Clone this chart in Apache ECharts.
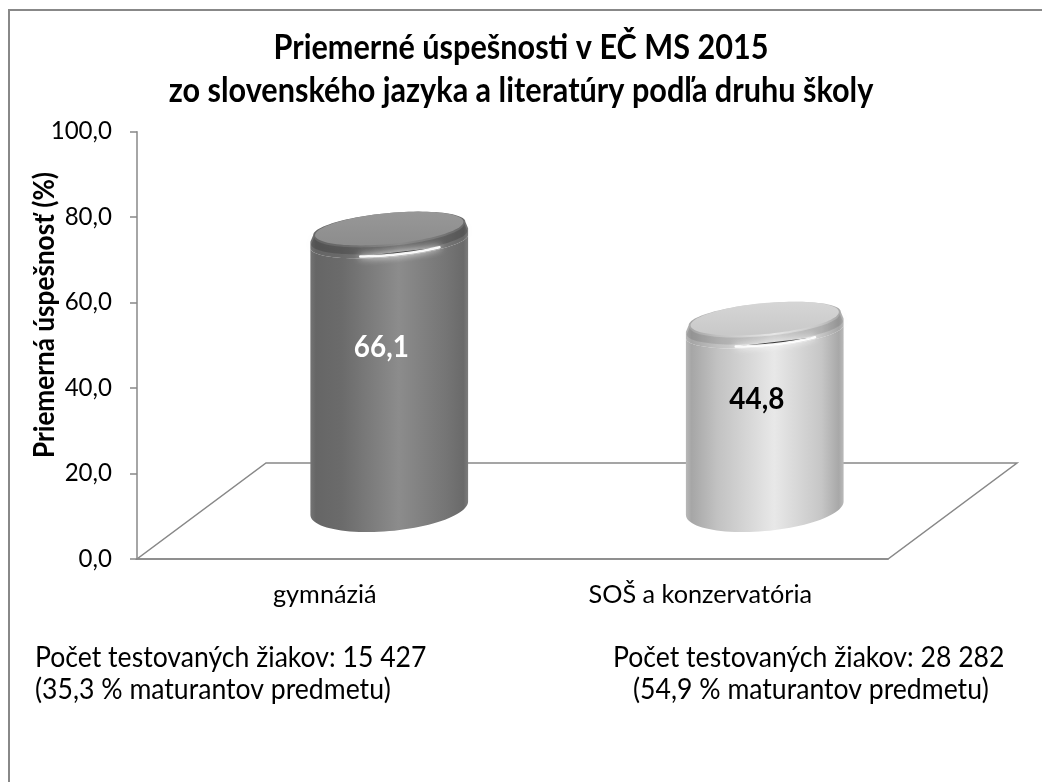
<!DOCTYPE html>
<html><head><meta charset="utf-8">
<script src="https://cdn.jsdelivr.net/npm/echarts@6/dist/echarts.min.js"></script>
<style>html,body{margin:0;padding:0;background:#fff}#c{width:1042px;height:782px}</style>
</head><body><div id="c"></div>
<script>
// ---- data ----
const categories = ['gymnáziá', 'SOŠ a konzervatória'];
const values = [66.1, 44.8];
const valueLabels = ['66,1', '44,8'];
const yTicks = [0, 20, 40, 60, 80, 100];
const titleLines = ['Priemerné úspešnosti v EČ MS 2015', 'zo slovenského jazyka a literatúry podľa druhu školy'];
const yAxisName = 'Priemerná úspešnosť (%)';
const noteLeft = ['Počet testovaných žiakov: 15 427', '(35,3 % maturantov predmetu)'];
const noteRight = ['Počet testovaných žiakov: 28 282', '(54,9 % maturantov predmetu)'];

// ---- style ----
const FONT = 'Lato';
const GRAY = '#888888';
const DEPTH_X = 129, DEPTH_Y = -96;
const PERSP = 0.99;
const K = 1.09; // taller glyphs, narrowed back with scaleX
const palettes = [
  { body: [[0, '#747474'], [0.035, '#666666'], [0.2, '#6b6b6b'], [0.56, '#8c8c8c'], [0.86, '#757575'], [0.97, '#6a6a6a'], [1, '#7c7c7c']],
    cap: ['#979797', '#8d8d8d'], label: '#ffffff', shade: 'rgba(0,0,0,0.16)' },
  { body: [[0, '#b8b8b8'], [0.035, '#a6a6a6'], [0.2, '#c2c2c2'], [0.56, '#e8e8e8'], [0.86, '#c6c6c6'], [0.97, '#a8a8a8'], [1, '#bababa']],
    cap: ['#d5d5d5', '#c9c9c9'], label: '#000000', shade: 'rgba(0,0,0,0.10)' }
];

const mctx = document.createElement('canvas').getContext('2d');
function fit(text, weight, width) {
  mctx.font = weight + ' 100px ' + FONT;
  return 100 * width / mctx.measureText(text).width;
}
const fsTitle = fit(titleLines[1], 'bold', 705);
const fsTick = fit('100,0', 'normal', 59) * 1.04;
const fsName = fit(yAxisName, 'bold', 286);
const fsCat = fit(categories[1], 'normal', 215) * 1.04;
const fsNote = fit(noteLeft[0], 'normal', 391);
const fsVal = fit(valueLabels[0], 'bold', 55);

function ellPts(cx, cy, rx, ry, sh, t0, t1, n) {
  const pts = [];
  for (let i = 0; i <= n; i++) {
    const t = t0 + (t1 - t0) * i / n;
    pts.push([cx + rx * Math.cos(t), cy + ry * Math.sin(t) - sh * Math.cos(t)]);
  }
  return pts;
}

function renderFloor(params, api) {
  const cs = params.coordSys;
  const x = cs.x, y = cs.y + cs.height, w = cs.width;
  return {
    type: 'polygon',
    shape: { points: [[x, y], [x + w, y], [x + w + DEPTH_X, y + DEPTH_Y], [x + DEPTH_X, y + DEPTH_Y]] },
    style: { fill: 'none', stroke: GRAY, lineWidth: 1.5 }
  };
}

function renderCylinder(params, api) {
  const idx = api.value(0);
  const val = api.value(1);
  const p0 = api.coord([idx, 0]);
  const p1 = api.coord([idx, val]);
  const band = api.size([1, 0])[0];
  const pal = palettes[idx % palettes.length];
  const cx = p0[0] + DEPTH_X * 0.5;
  const by = p0[1] + DEPTH_Y * 0.53;
  const ty = by + (p1[1] - p0[1]) * PERSP;
  const rx = band * 0.21;
  const sh = rx * 0.085;
  const ryB = 23;
  const ryT = 15.5;
  const bev = 13;
  const bodyFill = { type: 'linear', x: cx - rx, y: 0, x2: cx + rx, y2: 0, global: true,
    colorStops: pal.body.map(s => ({ offset: s[0], color: s[1] })) };
  const body = ellPts(cx, by, rx, ryB, sh, Math.PI, 0, 48)
    .concat(ellPts(cx, ty + bev, rx, ryT, sh, 0, Math.PI, 48));
  const shoulderPts = ellPts(cx, ty, rx * 0.965, ryT, sh, Math.PI, Math.PI * 2, 48)
    .concat([[cx + rx, ty + bev * 0.5 - sh]])
    .concat(ellPts(cx, ty + bev, rx, ryT, sh, 0, Math.PI, 48))
    .concat([[cx - rx, ty + bev * 0.5 + sh]]);
  const shadeBand = ellPts(cx, ty + 2, rx * 0.95, ryT, sh, 0, Math.PI, 48)
    .concat(ellPts(cx, ty + 9, rx * 0.99, ryT, sh, Math.PI, 0, 48));
  const children = [
    { type: 'polygon', shape: { points: body }, style: { fill: bodyFill } },
    { type: 'polygon', shape: { points: shoulderPts }, style: { fill: bodyFill } },
    { type: 'polygon', shape: { points: shadeBand }, style: { fill: pal.shade, shadowBlur: 4, shadowColor: pal.shade } },
    { type: 'polygon', shape: { points: ellPts(cx, ty, rx * 0.94, ryT, sh, 0, Math.PI * 2, 96) },
      style: { fill: { type: 'linear', x: 0, y: ty - ryT, x2: 0, y2: ty + ryT, global: true,
        colorStops: [{ offset: 0, color: pal.cap[0] }, { offset: 1, color: pal.cap[1] }] } } },
    { type: 'polyline', shape: { points: ellPts(cx, ty + bev * 0.85, rx, ryT, sh, Math.PI * 0.28, Math.PI * 0.62, 20) },
      style: { stroke: 'rgba(255,255,255,0.95)', lineWidth: 2.5, shadowBlur: 7, shadowColor: '#ffffff', lineCap: 'round' } },
    { type: 'text', x: cx - rx * 0.1, y: by + (ty - by) * 0.575,
      style: { text: valueLabels[idx], fill: pal.label, font: 'bold ' + (fsVal * K).toFixed(1) + 'px ' + FONT,
        align: 'center', verticalAlign: 'middle' }, scaleX: 1 / K }
  ];
  return { type: 'group', children: children };
}

function txt(x, y, text, weight, size, align, rot) {
  return { type: 'text', x: x, y: y, rotation: rot || 0, scaleX: 1 / K,
    style: { text: text, font: weight + ' ' + (size * K).toFixed(1) + 'px ' + FONT, fill: '#000', align: align, verticalAlign: 'middle' } };
}

const chart = echarts.init(document.getElementById('c'), null, { renderer: 'canvas' });
chart.setOption({
  backgroundColor: '#ffffff',
  animation: false,
  textStyle: { fontFamily: FONT },
  grid: { left: 137, right: 154, top: 131.7, bottom: 223 },
  xAxis: {
    type: 'category', data: categories,
    axisLine: { lineStyle: { color: GRAY, width: 1.5 } },
    axisTick: { show: false },
    axisLabel: { color: '#000', fontSize: fsCat, margin: 23, fontFamily: FONT }
  },
  yAxis: {
    type: 'value', min: yTicks[0], max: yTicks[yTicks.length - 1], interval: yTicks[1] - yTicks[0],
    axisLine: { show: true, lineStyle: { color: GRAY, width: 1.5 } },
    axisTick: { show: true, length: 7, lineStyle: { color: GRAY, width: 1.5 } },
    splitLine: { show: false },
    axisLabel: { color: '#000', fontSize: fsTick, margin: 25, fontFamily: FONT,
      formatter: v => v.toFixed(1).replace('.', ',') }
  },
  graphic: [
    { type: 'rect', shape: { x: 9, y: 10, width: 1100, height: 900 }, style: { fill: 'none', stroke: GRAY, lineWidth: 2 }, z: -10, silent: true },
    txt(521, 48, titleLines[0], 'bold', fsTitle, 'center'),
    txt(521, 91, titleLines[1], 'bold', fsTitle, 'center'),
    txt(45, 315, yAxisName, 'bold', fsName, 'center', Math.PI / 2),
    txt(35, 658, noteLeft[0], 'normal', fsNote, 'left'),
    txt(35, 690, noteLeft[1], 'normal', fsNote, 'left'),
    txt(613, 658, noteRight[0], 'normal', fsNote, 'left'),
    txt(633, 690, noteRight[1], 'normal', fsNote, 'left')
  ],
  series: [
    { type: 'custom', renderItem: renderFloor, data: [[0, 0]], silent: true, z: 1, clip: false },
    { type: 'custom', renderItem: renderCylinder, data: values.map((v, i) => [i, v]), encode: { x: 0, y: 1 }, z: 3, clip: false, silent: true }
  ]
});
</script>
</body></html>
